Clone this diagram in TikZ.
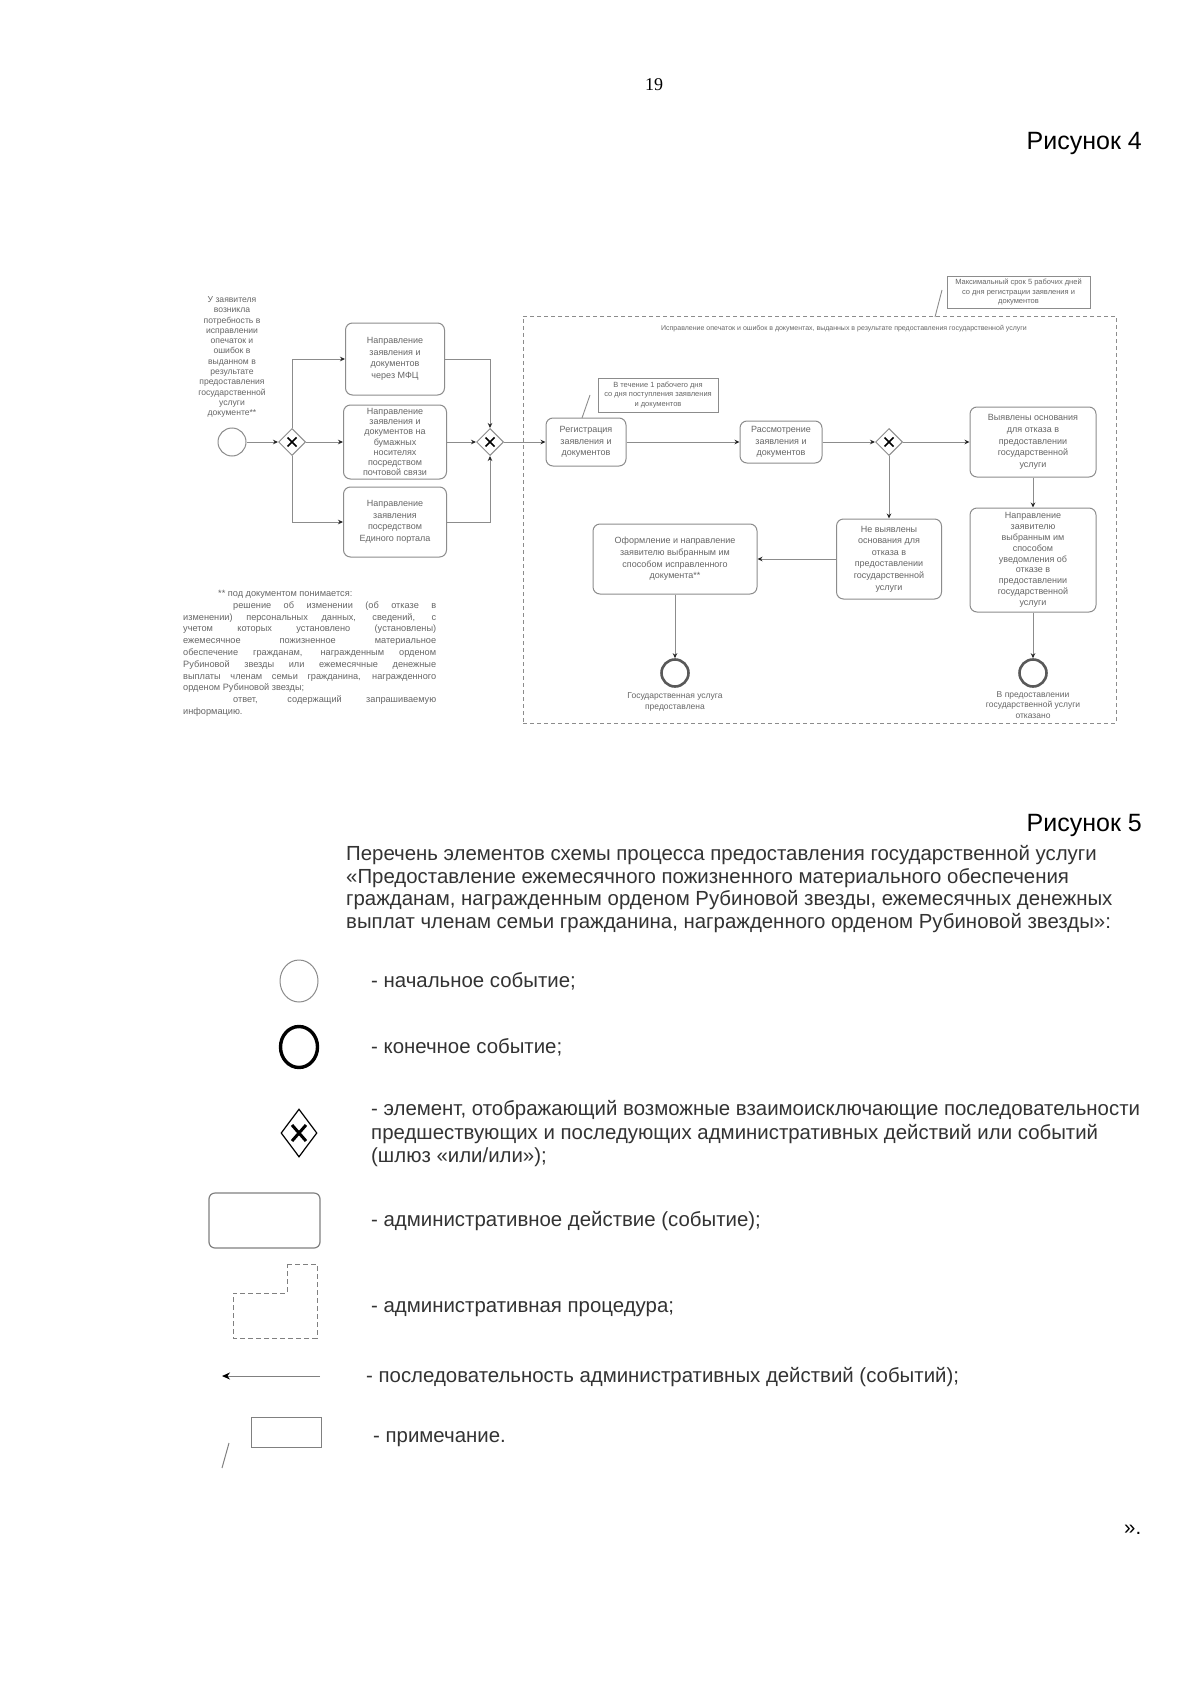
\documentclass[tikz,border=0pt]{standalone}
\usepackage{fontspec}
\setmainfont{Liberation Sans}
\newfontfamily\serifnum{Liberation Serif}
\usetikzlibrary{shapes.geometric,arrows.meta,calc}
\begin{document}
\begin{tikzpicture}[x=1pt,y=-1pt,
  act/.style={rectangle, rounded corners=7pt, draw=black!45, line width=1pt, align=center, text=black!60, font=\fontsize{9}{11.6}\selectfont, inner sep=1pt},
  note/.style={rectangle, draw=black!45, line width=0.9pt, align=center, text=black!60, font=\fontsize{7.5}{9.5}\selectfont, inner sep=1pt},
  lbl/.style={align=center, text=black!60, font=\fontsize{8.5}{10.3}\selectfont, inner sep=0pt},
  gw/.style={diamond, draw=black!45, line width=1pt, minimum width=27pt, minimum height=27pt, inner sep=0pt,
    path picture={\draw[black, line width=1.7pt]
      ($(path picture bounding box.center)+(-4.5,-4.5)$) -- ($(path picture bounding box.center)+(4.5,4.5)$)
      ($(path picture bounding box.center)+(-4.5,4.5)$) -- ($(path picture bounding box.center)+(4.5,-4.5)$);}},
  startev/.style={circle, draw=black!45, line width=1pt, minimum size=28pt, inner sep=0pt},
  endev/.style={circle, draw=black!65, line width=2.6pt, minimum size=27pt, inner sep=0pt},
  flow/.style={draw=black!45, line width=0.9pt, -{Stealth[length=5pt,width=4.5pt,black!85]}},
  leader/.style={draw=black!45, line width=0.9pt},
  legtxt/.style={anchor=base west, inner sep=0pt, text=black!80, font=\fontsize{20.4}{23}\selectfont},
]
\useasboundingbox (0,0) rectangle (1200,1696);
\fill[white] (0,0) rectangle (1200,1696);

% page header
\node[anchor=base, inner sep=0pt, font=\serifnum\fontsize{18}{20}\selectfont] (pg) at (654,91) {19};
\node[anchor=base east, inner sep=0pt, font=\fontsize{25}{28}\selectfont] (fig4) at (1142,150) {Рисунок 4};

% ---------------- diagram ----------------
\node[lbl, font=\fontsize{8.6}{10.3}\selectfont] (sttxt) at (232,357) {У заявителя\\возникла\\потребность в\\исправлении\\опечаток и\\ошибок в\\выданном в\\результате\\предоставления\\государственной\\услуги\\документе**};
\node[startev] (s) at (232,442) {};
\node[gw] (g1) at (292,442) {};
\node[act, minimum width=99pt, minimum height=72pt] (b1) at (395,359) {Направление\\заявления и\\документов\\через МФЦ};
\node[act, minimum width=103pt, minimum height=74pt, font=\fontsize{9}{10.3}\selectfont] (b2) at (395,442) {Направление\\заявления и\\документов на\\бумажных\\носителях\\посредством\\почтовой связи};
\node[act, minimum width=103pt, minimum height=70pt] (b3) at (395,522) {Направление\\заявления\\посредством\\Единого портала};
\node[gw] (g2) at (490,442) {};

% procedure (dashed)
\node[draw=black!45, line width=0.9pt, dash pattern=on 4pt off 3pt, minimum width=593pt, minimum height=407pt, inner sep=0pt] (proc) at (819.5,519.5) {};
\node[lbl, font=\fontsize{7}{8}\selectfont] (proclbl) at (844,329) {Исправление опечаток и ошибок в документах, выданных в результате предоставления государственной услуги};

% notes
\node[note, minimum width=143pt, minimum height=32pt] (n1) at (1018.5,292) {Максимальный срок 5 рабочих дней\\со дня регистрации заявления и\\документов};
\coordinate (n1a) at (935,317);
\coordinate (n1b) at (942,290);
\draw[leader] (n1a) -- (n1b);
\node[note, minimum width=120pt, minimum height=34pt] (n2) at (658,395) {В течение 1 рабочего дня\\со дня поступления заявления\\и документов};
\coordinate (n2a) at (582,418);
\coordinate (n2b) at (590,395);
\draw[leader] (n2a) -- (n2b);

\node[act, minimum width=80pt, minimum height=48pt] (reg) at (586,442) {Регистрация\\заявления и\\документов};
\node[act, minimum width=82pt, minimum height=42pt] (rev) at (781,442) {Рассмотрение\\заявления и\\документов};
\node[gw] (g3) at (889,442) {};
\node[act, minimum width=126pt, minimum height=70pt] (yes) at (1033,442) {Выявлены основания\\для отказа в\\предоставлении\\государственной\\услуги};
\node[act, minimum width=126pt, minimum height=104pt, font=\fontsize{9}{10.8}\selectfont] (ref) at (1033,560) {Направление\\заявителю\\выбранным им\\способом\\уведомления об\\отказе в\\предоставлении\\государственной\\услуги};
\node[act, minimum width=105pt, minimum height=80pt] (no) at (889,559) {Не выявлены\\основания для\\отказа в\\предоставлении\\государственной\\услуги};
\node[act, minimum width=164pt, minimum height=70pt] (fix) at (675,559) {Оформление и направление\\заявителю выбранным им\\способом исправленного\\документа**};
\node[endev] (e1) at (675,673) {};
\node[endev] (e2) at (1033,673) {};
\node[lbl] (e1l) at (675,702) {Государственная услуга\\предоставлена};
\node[lbl] (e2l) at (1033,705) {В предоставлении\\государственной услуги\\отказано};

% connectors
\draw[flow] (s) -- (g1);
\draw[flow] (g1.north) |- (b1.west);
\draw[flow] (g1) -- (b2);
\draw[flow] (g1.south) |- (b3.west);
\draw[flow] (b1.east) -| (g2.north);
\draw[flow] (b2) -- (g2);
\draw[flow] (b3.east) -| (g2.south);
\draw[flow] (g2) -- (reg);
\draw[flow] (reg) -- (rev);
\draw[flow] (rev) -- (g3);
\draw[flow] (g3) -- (yes);
\draw[flow] (g3) -- (no);
\draw[flow] (yes) -- (ref);
\draw[flow] (no) -- (fix);
\draw[flow] (fix) -- (e1);
\draw[flow] (ref) -- (e2);

% footnote
\node[anchor=north west, inner sep=0pt, align=left, text=black!60, font=\fontsize{9.2}{11.8}\selectfont] (foot) at (183,590) {%
\hspace*{35pt}** под документом понимается:\\
\hspace*{50pt}\makebox[203pt][s]{решение об изменении (об отказе в}\\
\makebox[253pt][s]{изменении) персональных данных, сведений, с}\\
\makebox[253pt][s]{учетом которых установлено (установлены)}\\
\makebox[253pt][s]{ежемесячное пожизненное материальное}\\
\makebox[253pt][s]{обеспечение гражданам, награжденным орденом}\\
\makebox[253pt][s]{Рубиновой звезды или ежемесячные денежные}\\
\makebox[253pt][s]{выплаты членам семьи гражданина, награжденного}\\
орденом Рубиновой звезды;\\
\hspace*{50pt}\makebox[203pt][s]{ответ, содержащий запрашиваемую}\\
информацию.};

% ---------------- legend ----------------
\node[anchor=base east, inner sep=0pt, font=\fontsize{25}{28}\selectfont] (fig5) at (1142,831) {Рисунок 5};
\node[legtxt] (p1) at (346,860) {Перечень элементов схемы процесса предоставления государственной услуги};
\node[legtxt] (p2) at (346,883) {«Предоставление ежемесячного пожизненного материального обеспечения};
\node[legtxt] (p3) at (346,905) {гражданам, награжденным орденом Рубиновой звезды, ежемесячных денежных};
\node[legtxt] (p4) at (346,928) {выплат членам семьи гражданина, награжденного орденом Рубиновой звезды»:};

\node[ellipse, draw=black!45, line width=1pt, minimum width=38pt, minimum height=42pt, inner sep=0pt] (ls) at (299,981) {};
\node[legtxt] (ls-t) at (371,987) {- начальное событие;};

\node[ellipse, draw=black, line width=3.4pt, minimum width=37pt, minimum height=41pt, inner sep=0pt] (le) at (299,1047) {};
\node[legtxt] (le-t) at (371,1053) {- конечное событие;};

\node[diamond, draw=black, line width=1.2pt, minimum width=36pt, minimum height=48pt, inner sep=0pt,
  path picture={\draw[black, line width=3pt]
      ($(path picture bounding box.center)+(-7,-8)$) -- ($(path picture bounding box.center)+(7,8)$)
      ($(path picture bounding box.center)+(-7,8)$) -- ($(path picture bounding box.center)+(7,-8)$);}] (lg) at (299,1133) {};
\node[legtxt] (lg-t1) at (371,1115) {- элемент, отображающий возможные взаимоисключающие последовательности};
\node[legtxt] (lg-t2) at (371,1139) {предшествующих и последующих административных действий или событий};
\node[legtxt] (lg-t3) at (371,1162) {(шлюз «или/или»);};

\node[rectangle, rounded corners=6pt, draw=black!50, line width=1.2pt, minimum width=111pt, minimum height=55pt] (la) at (264.5,1220.5) {};
\node[legtxt] (la-t) at (371,1226) {- административное действие (событие);};

\draw[draw=black!50, line width=1pt, dash pattern=on 5pt off 3pt] (287,1264) -- (317,1264) -- (317,1338) -- (233,1338) -- (233,1293) -- (287,1293) -- cycle;
\node[legtxt] (lp-t) at (371,1312) {- административная процедура;};

\coordinate (lf1) at (320,1376);
\coordinate (lf2) at (222,1376);
\draw[draw=black!50, line width=1pt, -{Stealth[length=8pt,width=7pt,black]}] (lf1) -- (lf2);
\node[legtxt] (lf-t) at (366,1382) {- последовательность административных действий (событий);};

\node[rectangle, draw=black!50, line width=1pt, minimum width=70pt, minimum height=30pt] (ln) at (286,1432) {};
\coordinate (ln1) at (222,1468);
\coordinate (ln2) at (229,1443);
\draw[draw=black!50, line width=1pt] (ln1) -- (ln2);
\node[legtxt] (ln-t) at (373,1442) {- примечание.};

\node[legtxt, text=black] (endq) at (1124,1534) {».};
\end{tikzpicture}
\end{document}
